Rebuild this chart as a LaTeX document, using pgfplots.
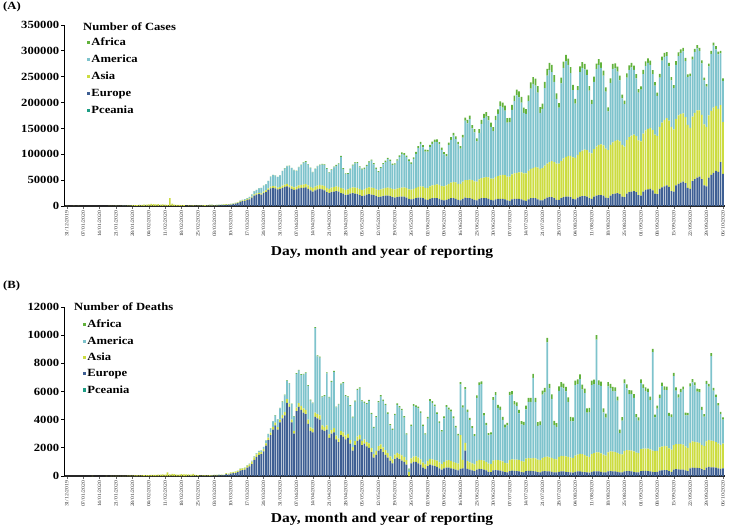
\documentclass[border=0pt]{standalone}
\usepackage{pgfplots}
\usepackage{pgfplotstable}
\pgfplotsset{compat=1.18}
\usepackage{fontspec}
\setmainfont{Liberation Serif}[FakeStretch=1.15]
\definecolor{cEu}{HTML}{3E5F93}
\definecolor{cAs}{HTML}{CCDC40}
\definecolor{cAm}{HTML}{7EC3CC}
\definecolor{cAf}{HTML}{62B23C}
\definecolor{cOc}{HTML}{1E9E85}

\pgfplotstableread{
d eu as am af
0 0 27 0 0
1 0 0 0 0
2 0 0 0 0
3 0 17 0 0
4 0 0 0 0
5 0 15 0 0
6 0 0 0 0
7 0 0 0 0
8 0 0 0 0
9 0 0 0 0
10 0 0 0 0
11 0 0 0 0
12 0 0 0 0
13 0 0 0 0
14 0 0 0 0
15 0 0 0 0
16 0 0 0 0
17 0 0 0 0
18 0 17 0 0
19 0 136 0 0
20 0 19 0 0
21 0 151 1 0
22 0 140 0 0
23 0 97 0 0
24 2 259 1 0
25 1 441 1 0
26 0 665 2 0
27 1 787 0 0
28 4 1753 0 0
29 0 1466 0 0
30 0 1740 0 0
31 5 1980 1 0
32 2 2100 0 0
33 2 2590 1 0
34 1 2829 0 0
35 1 3235 0 0
36 3 3884 0 0
37 0 3694 0 0
38 2 3143 0 0
39 0 3385 0 0
40 1 2652 0 0
41 0 2984 0 0
42 1 2473 0 0
43 0 2022 0 0
44 0 15141 1 0
45 2 4156 0 1
46 0 2538 0 0
47 0 2007 0 0
48 0 2051 0 0
49 0 1890 0 0
50 0 1750 0 0
51 3 394 0 0
52 17 1045 0 0
53 60 590 0 0
54 80 990 0 0
55 90 600 0 0
56 200 700 0 0
57 250 550 1 1
58 300 850 2 0
59 400 1100 3 0
60 500 1300 5 1
61 600 1500 20 1
62 700 1300 30 2
63 500 1200 30 2
64 800 1100 40 3
65 1100 1000 60 3
66 1200 1200 80 4
67 1800 1300 100 5
68 2400 1300 150 10
69 2500 1100 120 10
70 2600 1000 300 20
71 3500 1000 350 20
72 4500 1100 400 30
73 5500 1300 700 40
74 8000 1400 900 60
75 9500 1500 1000 80
76 10000 1600 1700 100
77 12000 1800 1500 120
78 13000 1900 2500 150
79 16000 2200 4000 200
80 20000 2300 6000 250
81 22000 2400 6500 300
82 23000 2600 8500 300
83 22000 2500 10000 350
84 25000 2800 11000 400
85 27000 3000 12000 450
86 31000 3200 14000 500
87 34000 3400 19000 550
88 35000 3600 21000 600
89 34000 3800 21000 650
90 32000 3700 20000 600
91 33000 4000 22000 700
92 35000 4200 28000 800
93 37000 4500 31000 900
94 38000 4800 34000 900
95 36000 5000 36000 1000
96 33000 5000 35000 900
97 31000 5100 33000 800
98 32000 5500 30000 900
99 34000 5800 35000 1000
100 35000 6000 38000 1000
101 35000 6300 42000 1100
102 36000 6500 43000 1100
103 33000 6800 40000 1000
104 30000 7000 36000 1000
105 28000 7200 30000 900
106 30000 7400 34000 1100
107 32000 7600 37000 1200
108 33000 7800 38000 1300
109 32000 8000 40000 1300
110 30000 8200 41000 1400
111 27000 8000 37000 1300
112 25000 8000 31000 1200
113 27000 8300 34000 1400
114 28000 8600 38000 1500
115 29000 8800 40000 1500
116 28000 9000 44000 1600
117 25000 10000 60000 1700
118 24000 9500 38000 1500
119 21000 9500 31000 1400
120 22000 10000 30000 1500
121 24000 10500 36000 1700
122 25000 11000 42000 1800
123 24000 11500 47000 1900
124 23000 12000 48000 2000
125 21000 11800 42000 1900
126 19000 11500 40000 1800
127 20000 12000 40000 2000
128 22000 12500 43000 2200
129 23000 13000 48000 2300
130 22000 13500 52000 2400
131 21000 13500 46000 2300
132 19000 13000 40000 2200
133 17000 13500 35000 2000
134 18000 14000 41000 2300
135 19000 14500 47000 2500
136 20000 15000 50000 2600
137 20000 15500 55000 2700
138 19000 15800 52000 2700
139 17000 15500 47000 2500
140 16000 16000 48000 2400
141 17000 16500 54000 2700
142 18000 17000 60000 2900
143 18000 17500 65000 3100
144 18000 18000 63000 3200
145 16000 18500 60000 3100
146 14000 18000 55000 3000
147 13000 18500 50000 2800
148 14000 19000 58000 3200
149 15000 20000 66000 3500
150 16000 21000 75000 3700
151 16000 22000 82000 4000
152 15000 22500 76000 4000
153 13000 22000 70000 3800
154 12000 23000 70000 3500
155 14000 24000 76000 4000
156 15000 25000 80000 4300
157 15000 26000 83000 4500
158 15000 27000 82000 4700
159 14000 27000 78000 4600
160 12000 26500 70000 4400
161 11000 27000 62000 4000
162 12000 28000 56000 4300
163 14000 29000 75000 4700
164 15000 30000 83000 5000
165 15000 31000 90000 5200
166 14000 31500 84000 5300
167 12000 31000 76000 5000
168 11000 32000 68000 4800
169 14000 33000 85000 5500
170 16000 34000 115000 6000
171 15000 35000 110000 6500
172 15000 36000 117000 6800
173 14000 36000 100000 6500
174 12000 35500 95000 6000
175 11000 36000 78000 6000
176 14000 37500 90000 7000
177 15000 39000 105000 7500
178 15000 40000 115000 8000
179 15000 41000 117000 8500
180 14000 41500 110000 8200
181 12000 41000 100000 8000
182 11000 42000 92000 7500
183 13000 43000 110000 8500
184 14000 44000 120000 9000
185 14000 45000 134000 9500
186 14000 46000 130000 10000
187 13000 46500 125000 9500
188 11000 46000 104000 9000
189 10000 47000 105000 8500
190 13000 48000 125000 9500
191 14000 49000 140000 10500
192 14000 50000 150000 11000
193 14000 51000 145000 11500
194 13000 52000 135000 11000
195 11000 52000 117000 10000
196 10000 53000 115000 9500
197 13000 55000 135000 11000
198 15000 57000 155000 12000
199 15000 58000 163000 13000
200 15000 60000 158000 13500
201 13000 61000 145000 13000
202 11000 61000 108000 11000
203 11000 62000 115000 10000
204 14000 64000 150000 12000
205 16000 66000 170000 13000
206 17000 68000 178000 14000
207 17000 70000 172000 14000
208 15000 70000 155000 13000
209 12000 70000 125000 11000
210 12000 70000 108000 9000
211 15000 72000 150000 11000
212 17000 75000 175000 12000
213 18000 77000 185000 12000
214 18000 79000 176000 12000
215 17000 80000 160000 11500
216 14000 80000 130000 10000
217 13000 80000 105000 9000
218 16000 83000 125000 8000
219 18000 86000 155000 11000
220 19000 88000 160000 11000
221 19000 90000 155000 11000
222 18000 90000 145000 10500
223 15000 88000 120000 9000
224 14000 88000 95000 8000
225 18000 92000 130000 10000
226 20000 95000 150000 10500
227 21000 97000 155000 11000
228 21000 98000 148000 10500
229 20000 97000 135000 10000
230 16000 95000 110000 8500
231 15000 93000 75000 7500
232 20000 98000 120000 9000
233 23000 100000 142000 10000
234 24000 102000 140000 10000
235 25000 103000 132000 9500
236 23000 102000 118000 9000
237 18000 100000 90000 7500
238 17000 98000 82000 7000
239 24000 104000 120000 8500
240 27000 106000 130000 9000
241 28000 108000 132000 9000
242 29000 109000 125000 8500
243 27000 108000 112000 8000
244 21000 106000 92000 7000
245 20000 105000 100000 6500
246 28000 112000 115000 8000
247 31000 115000 125000 8500
248 32000 117000 128000 8500
249 33000 118000 122000 8000
250 30000 117000 108000 7500
251 24000 114000 95000 6500
252 23000 112000 78000 6000
253 33000 120000 95000 7500
254 36000 125000 120000 8000
255 38000 128000 122000 8000
256 40000 130000 120000 7500
257 37000 128000 105000 7000
258 29000 124000 90000 6000
259 28000 120000 80000 5500
260 40000 128000 105000 7000
261 43000 132000 115000 7000
262 45000 133000 118000 7000
263 47000 132000 120000 7000
264 44000 128000 108000 6500
265 35000 122000 92000 5500
266 33000 118000 100000 5000
267 48000 125000 110000 6000
268 52000 128000 118000 6000
269 55000 130000 120000 6000
270 57000 128000 115000 6000
271 52000 124000 100000 5500
272 40000 118000 85000 5000
273 38000 115000 78000 4500
274 55000 120000 95000 5500
275 60000 124000 110000 6000
276 64000 126000 120000 6000
277 68000 125000 110000 6000
278 66000 122000 105000 5500
279 85000 110000 100000 5000
280 62000 100000 80000 5000
}\casedata

\pgfplotstableread{
d eu as am af
0 0 0 0 0
1 0 0 0 0
2 0 0 0 0
3 0 0 0 0
4 0 0 0 0
5 0 0 0 0
6 0 0 0 0
7 0 0 0 0
8 0 0 0 0
9 0 0 0 0
10 0 0 0 0
11 0 1 0 0
12 0 0 0 0
13 0 0 0 0
14 0 0 0 0
15 0 0 0 0
16 0 0 0 0
17 0 1 0 0
18 0 0 0 0
19 0 1 0 0
20 0 3 0 0
21 0 11 0 0
22 0 8 0 0
23 0 16 0 0
24 0 15 0 0
25 0 15 0 0
26 0 25 0 0
27 0 26 0 0
28 0 26 0 0
29 0 38 0 0
30 0 43 0 0
31 0 46 0 0
32 0 45 0 0
33 0 57 0 0
34 0 64 0 0
35 0 65 0 0
36 0 73 0 0
37 0 73 0 0
38 0 86 0 0
39 0 89 0 0
40 0 97 0 0
41 0 108 0 0
42 0 97 0 0
43 0 254 0 0
44 0 121 0 0
45 1 143 0 0
46 0 142 0 0
47 0 105 0 0
48 0 98 0 0
49 0 139 0 0
50 0 112 0 0
51 0 118 0 0
52 2 109 0 0
53 1 97 0 0
54 3 150 0 0
55 3 71 0 0
56 4 52 0 0
57 5 29 0 0
58 5 44 0 0
59 4 47 0 0
60 8 35 0 0
61 12 50 1 0
62 18 50 1 0
63 27 45 3 0
64 28 50 4 0
65 41 45 3 0
66 49 45 2 0
67 37 40 5 0
68 133 70 3 0
69 100 60 5 0
70 170 80 4 0
71 200 80 8 0
72 210 100 10 0
73 270 95 10 0
74 390 110 15 2
75 420 120 15 2
76 450 130 20 3
77 600 140 30 3
78 680 150 40 5
79 850 170 50 5
80 1150 170 60 8
81 1350 180 80 10
82 1500 170 100 10
83 1550 150 110 12
84 1750 150 150 15
85 2150 160 200 15
86 2550 170 250 20
87 2900 180 300 20
88 3300 180 400 25
89 3600 190 500 25
90 3300 170 550 25
91 3800 200 800 30
92 4100 220 950 35
93 4300 230 1200 40
94 5200 250 1300 40
95 4900 240 1400 45
96 3800 200 1100 45
97 3000 200 1000 40
98 4600 260 2400 50
99 4900 280 2300 60
100 4700 280 2200 60
101 4500 300 2400 60
102 4400 300 2600 60
103 3700 300 2400 60
104 3200 260 1900 55
105 3100 260 1800 50
106 4200 300 6000 70
107 4100 300 4100 70
108 4000 300 4100 70
109 3300 290 2000 60
110 3200 280 2200 60
111 3300 290 3700 70
112 2700 260 2600 60
113 3000 280 3400 70
114 3100 300 4000 70
115 2600 270 2000 60
116 2400 260 2400 60
117 2900 290 3300 70
118 2800 300 3500 70
119 2600 280 2800 65
120 2700 290 2600 70
121 2300 270 2400 65
122 1800 250 2100 60
123 2200 280 2800 75
124 2500 300 3300 80
125 2600 310 3300 80
126 2200 290 2800 75
127 2300 300 2600 80
128 2100 300 2700 80
129 2000 320 3000 85
130 1700 300 2400 80
131 1300 260 1850 70
132 1500 280 2400 80
133 1800 320 3100 90
134 1900 340 3400 95
135 1700 330 3300 95
136 1500 330 3200 95
137 1300 320 2800 90
138 1100 300 2200 85
139 900 280 2100 80
140 1200 320 2800 100
141 1300 350 3400 110
142 1200 360 3300 110
143 1100 360 3200 110
144 1000 350 2800 100
145 800 330 1800 90
146 0 300 150 80
147 900 350 2300 100
148 1000 380 3600 120
149 1000 400 3500 120
150 900 400 3500 120
151 800 380 3300 110
152 600 350 2600 100
153 500 330 2100 100
154 700 380 3000 110
155 800 420 4100 130
156 750 430 4000 130
157 700 440 3800 130
158 650 450 3300 120
159 550 420 2800 110
160 450 400 2300 100
161 550 450 3100 130
162 600 500 3800 140
163 600 520 3600 140
164 550 520 3500 140
165 500 500 3100 140
166 450 480 2500 130
167 400 470 2000 120
168 500 2400 3600 160
169 550 600 3700 160
170 1800 550 3800 160
171 500 550 3500 160
172 450 520 3000 150
173 400 500 2500 150
174 350 480 2000 140
175 450 600 4500 180
176 500 650 5300 190
177 480 650 5400 190
178 450 640 3200 180
179 400 600 2600 170
180 300 580 2000 160
181 280 560 2100 150
182 400 700 4300 200
183 420 720 4600 220
184 400 730 3700 220
185 380 720 3600 220
186 330 700 2950 220
187 280 660 2500 200
188 260 640 2700 180
189 350 780 4600 240
190 380 800 4600 250
191 360 800 3900 250
192 350 820 3800 250
193 330 810 3300 250
194 280 780 2600 230
195 260 760 2600 220
196 350 880 3500 260
197 370 900 4000 280
198 360 900 4000 290
199 350 920 5700 290
200 330 920 4000 290
201 280 880 2400 270
202 260 860 2500 250
203 320 950 4500 300
204 340 1000 4600 320
205 330 1050 8100 330
206 320 1000 4900 330
207 300 980 4200 320
208 260 950 2400 300
209 250 930 2300 280
210 300 1050 4700 320
211 330 1100 4900 340
212 320 1100 4800 340
213 300 1100 4600 330
214 280 1080 3900 320
215 250 1050 2600 300
216 240 1030 2600 290
217 300 1150 5000 330
218 320 1200 5000 340
219 320 1250 5300 340
220 300 1250 4600 330
221 280 1200 4400 320
222 250 1150 3100 300
223 240 1100 3200 290
224 300 1250 4900 320
225 320 1300 4900 330
226 330 1350 8000 330
227 320 1350 4800 320
228 300 1300 4800 310
229 260 1250 3000 290
230 250 1200 2700 280
231 320 1350 4700 300
232 340 1400 4500 300
233 330 1400 4300 300
234 320 1380 4300 290
235 300 1350 3700 280
236 250 1300 1500 250
237 250 1280 2400 250
238 330 1450 4800 280
239 350 1480 4400 280
240 340 1480 4000 270
241 330 1480 4000 270
242 300 1450 3800 260
243 260 1400 2500 240
244 250 1380 2300 230
245 350 1550 4700 260
246 370 1580 4300 260
247 360 1580 4100 250
248 350 1600 4000 250
249 330 1560 3500 240
250 300 1500 7000 220
251 280 1480 2400 200
252 290 1500 3000 210
253 380 1650 3500 250
254 400 1680 4300 250
255 420 1700 4000 250
256 420 1680 4000 240
257 350 1620 2300 220
258 300 1580 2300 200
259 450 1750 4900 230
260 480 1780 3800 230
261 470 1800 3300 220
262 460 1800 3700 220
263 450 1780 3900 220
264 400 1700 2200 200
265 350 1650 2300 190
266 550 1800 4000 220
267 600 1850 4200 230
268 580 1850 4000 220
269 570 1820 3600 220
270 560 1800 3600 210
271 480 1720 2500 200
272 420 1700 2100 180
273 600 1850 4100 200
274 650 1900 3800 200
275 620 1900 6000 200
276 620 1850 3600 190
277 600 1800 3200 180
278 550 1750 2700 170
279 500 1700 2200 160
280 550 1750 1700 160
}\deathdata

\pgfplotsset{
  panel/.style={
    scale only axis, width=660.9pt,
    xmin=-1, xmax=281, ymin=0,
    ybar stacked, bar width=1.7pt,
    separate axis lines,
    axis x line*=bottom, axis y line*=left,
    axis line style={-},
    x axis line style={line width=1.8pt, black!85},
    y axis line style={line width=1.1pt, black},
    tick align=outside,
    ytick style={black, line width=0.8pt},
    xtick style={black!60, line width=0.4pt},
    major tick length=3pt,
    xtick={0,7,...,280},
    xticklabels={31/12/2019,07/01/2020,14/01/2020,21/01/2020,28/01/2020,04/02/2020,11/02/2020,18/02/2020,25/02/2020,03/03/2020,10/03/2020,17/03/2020,24/03/2020,31/03/2020,07/04/2020,14/04/2020,21/04/2020,28/04/2020,05/05/2020,12/05/2020,19/05/2020,26/05/2020,02/06/2020,09/06/2020,16/06/2020,23/06/2020,30/06/2020,07/07/2020,14/07/2020,21/07/2020,28/07/2020,04/08/2020,11/08/2020,18/08/2020,25/08/2020,01/09/2020,08/09/2020,15/09/2020,22/09/2020,29/09/2020,06/10/2020},
    xticklabel style={rotate=90, anchor=east, font=\fontsize{5}{5}\selectfont, text=black!80, inner sep=1.5pt},
    yticklabel style={font=\bfseries\fontsize{11}{12}\selectfont, inner sep=2pt},
    scaled y ticks=false,
    xlabel={Day, month and year of reporting},
    xlabel style={font=\bfseries\fontsize{13.5}{15}\selectfont, at={(axis description cs:0.4806,0)}, anchor=center},
    legend cell align=left,
    legend image code/.code={\fill (0pt,-1.6pt) rectangle (3.2pt,1.6pt);},
    legend style={draw=none, fill=none, anchor=north west, font=\bfseries\fontsize{11}{12}\selectfont, nodes={inner sep=1pt}},
  }
}

\begin{document}
\begin{tikzpicture}[x=1pt,y=1pt]
\path[use as bounding box] (0,0) rectangle (729,528);

\begin{axis}[panel, at={(64.4pt,322pt)}, anchor=south west, height=181pt,
  ymax=350000, ytick={0,50000,100000,150000,200000,250000,300000,350000},
  yticklabels={0,50000,100000,150000,200000,250000,300000,350000},
  xlabel style={yshift=-46pt},
  legend style={at={(axis description cs:0.0297,0.945)}, row sep=5.8pt}]
\addplot[fill=cEu, draw=none, forget plot] table[x=d,y=eu]{\casedata};
\addplot[fill=cAs, draw=none, forget plot] table[x=d,y=as]{\casedata};
\addplot[fill=cAm, draw=none, forget plot] table[x=d,y=am]{\casedata};
\addplot[fill=cAf, draw=none, forget plot] table[x=d,y=af]{\casedata};
\addlegendimage{fill=cAf, draw=none}\addlegendentry{Africa}
\addlegendimage{fill=cAm, draw=none}\addlegendentry{America}
\addlegendimage{fill=cAs, draw=none}\addlegendentry{Asia}
\addlegendimage{fill=cEu, draw=none}\addlegendentry{Europe}
\addlegendimage{fill=cOc, draw=none}\addlegendentry{Pceania}
\end{axis}
\node[anchor=west, inner sep=0pt, font=\bfseries\fontsize{11}{12}\selectfont] at (83,501) {Number of Cases};
\node[anchor=west, inner sep=0pt, font=\bfseries\fontsize{11}{12}\selectfont] at (3,521) {(A)};

\begin{axis}[panel, at={(64.4pt,52pt)}, anchor=south west, height=169pt,
  ymax=12000, ytick={0,2000,4000,6000,8000,10000,12000},
  yticklabels={0,2000,4000,6000,8000,10000,12000},
  xlabel style={yshift=-43pt},
  legend style={at={(axis description cs:0.0236,0.942)}, row sep=5.3pt}]
\addplot[fill=cEu, draw=none, forget plot] table[x=d,y=eu]{\deathdata};
\addplot[fill=cAs, draw=none, forget plot] table[x=d,y=as]{\deathdata};
\addplot[fill=cAm, draw=none, forget plot] table[x=d,y=am]{\deathdata};
\addplot[fill=cAf, draw=none, forget plot] table[x=d,y=af]{\deathdata};
\addlegendimage{fill=cAf, draw=none}\addlegendentry{Africa}
\addlegendimage{fill=cAm, draw=none}\addlegendentry{America}
\addlegendimage{fill=cAs, draw=none}\addlegendentry{Asia}
\addlegendimage{fill=cEu, draw=none}\addlegendentry{Europe}
\addlegendimage{fill=cOc, draw=none}\addlegendentry{Pceania}
\end{axis}
\node[anchor=west, inner sep=0pt, font=\bfseries\fontsize{11}{12}\selectfont] at (74,221) {Number of Deaths};
\node[anchor=west, inner sep=0pt, font=\bfseries\fontsize{11}{12}\selectfont] at (3,242) {(B)};
\end{tikzpicture}
\end{document}
